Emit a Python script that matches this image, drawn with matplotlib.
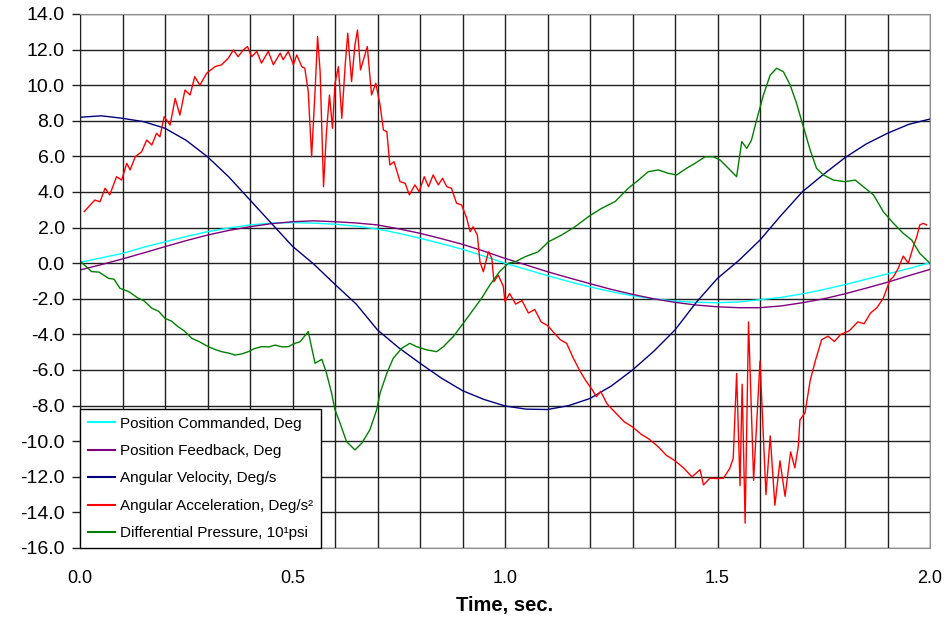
import matplotlib
matplotlib.use("Agg")
import matplotlib.pyplot as plt
from matplotlib.ticker import MultipleLocator, FormatStrFormatter

plt.rcParams['font.family'] = ['Liberation Sans', 'DejaVu Sans']

# ---------------- data ----------------
t_smooth = [0.00, 0.05, 0.10, 0.15, 0.20, 0.25, 0.30, 0.35, 0.40, 0.45, 0.50,
            0.55, 0.60, 0.65, 0.70, 0.75, 0.80, 0.85, 0.90, 0.95, 1.00,
            1.05, 1.10, 1.15, 1.20, 1.25, 1.30, 1.35, 1.40, 1.45, 1.50,
            1.55, 1.60, 1.65, 1.70, 1.75, 1.80, 1.85, 1.90, 1.95, 2.00]

pos_commanded = [0.05, 0.30, 0.55, 0.90, 1.20, 1.50, 1.77, 1.98, 2.15, 2.25, 2.28,
                 2.25, 2.19, 2.08, 1.92, 1.68, 1.40, 1.10, 0.78, 0.40, 0.00,
                 -0.35, -0.70, -1.03, -1.33, -1.60, -1.83, -2.00, -2.13, -2.20, -2.22,
                 -2.18, -2.05, -1.92, -1.72, -1.48, -1.20, -0.90, -0.60, -0.30, 0.03]

pos_feedback = [-0.38, -0.08, 0.24, 0.58, 0.93, 1.27, 1.58, 1.84, 2.05, 2.22, 2.33,
                2.38, 2.33, 2.26, 2.15, 1.93, 1.68, 1.38, 1.06, 0.68, 0.27,
                -0.10, -0.48, -0.82, -1.15, -1.47, -1.75, -2.00, -2.20, -2.35, -2.45,
                -2.50, -2.50, -2.40, -2.22, -2.00, -1.72, -1.40, -1.07, -0.70, -0.35]

ang_velocity = [8.20, 8.28, 8.14, 7.95, 7.58, 6.90, 5.98, 4.85, 3.55, 2.25, 0.95,
                -0.05, -1.19, -2.30, -3.75, -4.75, -5.62, -6.45, -7.16, -7.65, -8.02,
                -8.20, -8.22, -8.00, -7.60, -6.90, -6.00, -4.95, -3.75, -2.20, -0.85,
                0.15, 1.30, 2.70, 4.02, 5.00, 5.93, 6.70, 7.30, 7.80, 8.10]

t_accel = [0.010, 0.024, 0.035, 0.047, 0.059, 0.070, 0.086, 0.098, 0.110, 0.118,
           0.130, 0.145, 0.157, 0.169, 0.180, 0.188, 0.198, 0.212, 0.224, 0.235,
           0.247, 0.259, 0.270, 0.282, 0.298, 0.318, 0.333, 0.349, 0.361, 0.372,
           0.384, 0.394, 0.404, 0.416, 0.427, 0.443, 0.455, 0.471, 0.478, 0.490,
           0.502, 0.510, 0.522, 0.529, 0.537, 0.545, 0.553, 0.559, 0.565, 0.573,
           0.580, 0.587, 0.594, 0.600, 0.608, 0.616, 0.624, 0.630, 0.639, 0.647,
           0.653, 0.660, 0.668, 0.676, 0.686, 0.696, 0.706, 0.714, 0.722, 0.729,
           0.739, 0.753, 0.765, 0.775, 0.788, 0.798, 0.810, 0.820, 0.831, 0.843,
           0.853, 0.863, 0.874, 0.886, 0.898, 0.910, 0.918, 0.925, 0.935, 0.941,
           0.949, 0.961, 0.969, 0.974, 0.984, 0.996, 1.000, 1.011, 1.025, 1.040,
           1.055, 1.070, 1.085, 1.100, 1.115, 1.130, 1.145, 1.160, 1.175, 1.190,
           1.205, 1.215, 1.225, 1.240, 1.260, 1.280, 1.300, 1.320, 1.340, 1.360,
           1.380, 1.400, 1.420, 1.440, 1.459, 1.467, 1.482, 1.500, 1.514, 1.529,
           1.537, 1.545, 1.553, 1.558, 1.565, 1.573, 1.585, 1.600, 1.614, 1.624,
           1.635, 1.647, 1.659, 1.672, 1.682, 1.690, 1.694, 1.706, 1.718, 1.730,
           1.745, 1.760, 1.775, 1.790, 1.810, 1.830, 1.845, 1.860, 1.875, 1.890,
           1.906, 1.914, 1.925, 1.937, 1.949, 1.961, 1.969, 1.976, 1.984, 1.992]

ang_accel = [2.90, 3.27, 3.55, 3.45, 4.21, 3.84, 4.86, 4.67, 5.61, 5.24,
             5.98, 6.26, 6.92, 6.64, 7.30, 7.10, 8.23, 7.76, 9.26, 8.32,
             9.73, 9.45, 10.48, 10.00, 10.67, 11.05, 11.14, 11.52, 11.98, 11.60,
             11.98, 12.17, 11.60, 11.90, 11.24, 11.90, 11.15, 11.80, 11.43, 11.90,
             11.15, 11.70, 11.04, 10.95, 9.64, 5.98, 9.64, 12.73, 10.76, 4.30,
             7.39, 9.45, 7.58, 10.11, 11.04, 8.14, 11.14, 12.92, 10.20, 12.27,
             13.10, 10.86, 11.52, 12.17, 9.45, 10.11, 8.89, 7.48, 7.39, 5.52,
             5.70, 4.58, 4.49, 3.84, 4.40, 4.02, 4.86, 4.30, 4.96, 4.40,
             4.77, 4.30, 4.21, 3.37, 3.27, 2.52, 1.77, 2.05, 1.58, 0.08,
             -0.48, 0.64, 0.27, -1.04, -0.67, -1.30, -2.16, -1.70, -2.30, -2.10,
             -2.80, -2.60, -3.30, -3.50, -3.90, -4.30, -4.50, -5.30, -6.00, -6.60,
             -7.10, -7.50, -7.20, -7.90, -8.40, -8.90, -9.20, -9.60, -9.90, -10.30,
             -10.80, -11.10, -11.50, -12.00, -11.60, -12.46, -12.08, -12.10, -12.08, -11.52,
             -10.96, -6.20, -12.50, -6.80, -14.60, -3.30, -12.20, -5.50, -13.00, -9.70,
             -13.60, -11.10, -13.10, -10.60, -11.50, -10.30, -8.80, -8.40, -6.60, -5.50,
             -4.30, -4.10, -4.40, -4.00, -3.80, -3.30, -3.40, -2.80, -2.50, -1.97,
             -0.94, -0.76, -0.30, 0.40, 0.00, 0.95, 1.50, 2.15, 2.24, 2.15]

t_press = [0.000, 0.015, 0.027, 0.045, 0.067, 0.080, 0.094, 0.115, 0.137, 0.150,
           0.169, 0.185, 0.200, 0.215, 0.231, 0.245, 0.263, 0.280, 0.302, 0.318,
           0.333, 0.350, 0.365, 0.380, 0.396, 0.410, 0.427, 0.445, 0.459, 0.475,
           0.490, 0.506, 0.518, 0.537, 0.553, 0.569, 0.580, 0.592, 0.600, 0.612,
           0.627, 0.647, 0.663, 0.682, 0.698, 0.706, 0.722, 0.737, 0.757, 0.776,
           0.792, 0.816, 0.839, 0.855, 0.878, 0.902, 0.925, 0.945, 0.965, 0.988,
           1.008, 1.024, 1.047, 1.078, 1.102, 1.133, 1.165, 1.196, 1.227, 1.259,
           1.290, 1.314, 1.337, 1.361, 1.384, 1.404, 1.427, 1.447, 1.471, 1.490,
           1.506, 1.522, 1.545, 1.557, 1.569, 1.580, 1.592, 1.608, 1.624, 1.639,
           1.655, 1.671, 1.686, 1.702, 1.718, 1.733, 1.749, 1.773, 1.800, 1.824,
           1.843, 1.867, 1.890, 1.914, 1.937, 1.957, 1.976, 2.000]

diff_pressure = [0.12, -0.20, -0.47, -0.50, -0.85, -0.90, -1.41, -1.60, -1.97, -2.10,
                 -2.53, -2.70, -3.10, -3.25, -3.57, -3.80, -4.22, -4.40, -4.69, -4.85,
                 -4.97, -5.05, -5.16, -5.10, -4.97, -4.80, -4.69, -4.70, -4.60, -4.70,
                 -4.69, -4.50, -4.41, -3.84, -5.62, -5.40, -6.18, -7.30, -8.24, -8.99,
                 -10.02, -10.49, -10.11, -9.36, -8.24, -7.30, -6.18, -5.34, -4.78, -4.50,
                 -4.69, -4.87, -4.97, -4.69, -4.13, -3.37, -2.62, -1.97, -1.20, -0.45,
                 0.00, 0.08, 0.36, 0.64, 1.20, 1.58, 2.05, 2.61, 3.08, 3.46,
                 4.21, 4.67, 5.14, 5.24, 5.05, 4.96, 5.33, 5.61, 5.98, 5.98,
                 5.80, 5.42, 4.86, 6.83, 6.45, 6.92, 8.04, 9.45, 10.57, 10.95,
                 10.76, 10.01, 8.98, 7.67, 6.36, 5.33, 4.96, 4.67, 4.58, 4.67,
                 4.30, 3.84, 2.90, 2.24, 1.68, 1.30, 0.55, 0.00]

labels = ["Position Commanded, Deg",
          "Position Feedback, Deg",
          "Angular Velocity, Deg/s",
          "Angular Acceleration, Deg/s\u00b2",
          "Differential Pressure, 10\u00b9psi"]
colors = ["#00FFFF", "#800080", "#000080", "#FF0000", "#008000"]

# ---------------- figure ----------------
fig = plt.figure(figsize=(9.49, 6.28), dpi=100)
ax = fig.add_axes([80 / 949, 1 - 548 / 628, 850 / 949, 534 / 628])

ax.plot(t_smooth, pos_commanded, color=colors[0], lw=1.0, label=labels[0])
ax.plot(t_smooth, pos_feedback, color=colors[1], lw=1.0, label=labels[1])
ax.plot(t_smooth, ang_velocity, color=colors[2], lw=1.0, label=labels[2])
ax.plot(t_accel, ang_accel, color=colors[3], lw=1.0, label=labels[3])
ax.plot(t_press, diff_pressure, color=colors[4], lw=1.0, label=labels[4])

ax.set_xlim(0, 2.0)
ax.set_ylim(-16, 14)
ax.xaxis.set_major_locator(MultipleLocator(0.5))
ax.xaxis.set_minor_locator(MultipleLocator(0.1))
ax.yaxis.set_major_locator(MultipleLocator(2))
ax.xaxis.set_major_formatter(FormatStrFormatter('%.1f'))
ax.yaxis.set_major_formatter(FormatStrFormatter('%.1f'))

ax.grid(True, which='both', axis='x', color='#202020', lw=1.0)
ax.grid(True, which='major', axis='y', color='#202020', lw=1.0)
ax.set_axisbelow(True)

ax.tick_params(axis='y', which='major', length=6, width=1, direction='out',
               pad=5, labelsize=14, color='#202020')
ax.tick_params(axis='x', which='both', length=0, pad=16, labelsize=13)

for s in ['top', 'right', 'bottom']:
    ax.spines[s].set_color('#909090')
ax.spines['left'].set_color('#202020')

ax.set_xlabel("Time, sec.", fontsize=14.5, fontweight='bold', labelpad=6)

leg = ax.legend(loc='lower left', bbox_to_anchor=(0, 0), borderaxespad=0,
                fontsize=11, frameon=True, fancybox=False, framealpha=1,
                edgecolor='black', handlelength=1.8, handletextpad=0.35,
                labelspacing=0.88, borderpad=0.5)
leg.get_frame().set_linewidth(1.0)
for line in leg.get_lines():
    line.set_linewidth(1.5)

fig.savefig("out.png", dpi=100)
